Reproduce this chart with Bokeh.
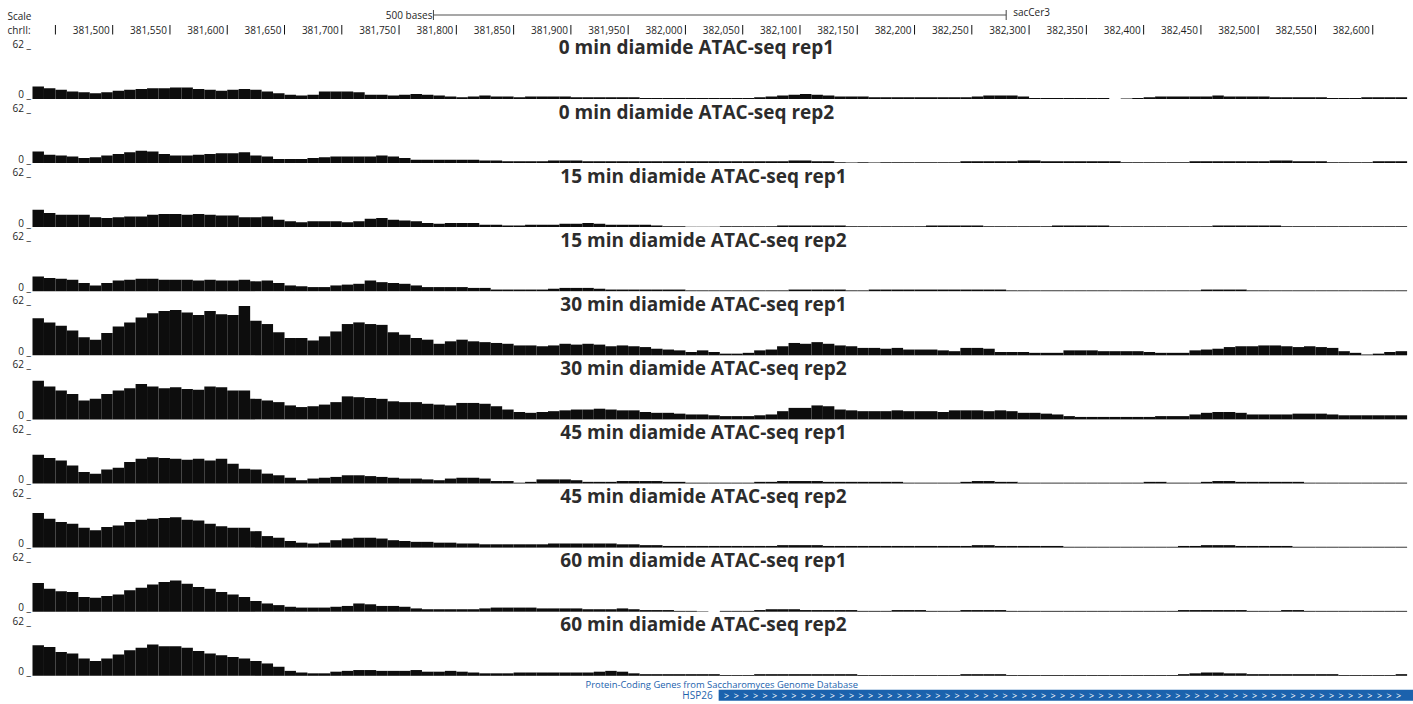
import numpy as np
from bokeh.plotting import figure
from bokeh.models import ColumnDataSource, Range1d
from bokeh.core.properties import value
from bokeh.embed import file_html
from bokeh.resources import INLINE

# ---------------- data ----------------
CHROM = "chrII"
VIEW_START = 381430
VIEW_END = 382630
BIN = 10
Y_MAX = 62

TRACK_TITLES = [
    "0 min diamide ATAC-seq rep1",
    "0 min diamide ATAC-seq rep2",
    "15 min diamide ATAC-seq rep1",
    "15 min diamide ATAC-seq rep2",
    "30 min diamide ATAC-seq rep1",
    "30 min diamide ATAC-seq rep2",
    "45 min diamide ATAC-seq rep1",
    "45 min diamide ATAC-seq rep2",
    "60 min diamide ATAC-seq rep1",
    "60 min diamide ATAC-seq rep2",
]

min0_rep1 = [15, 13, 11, 9, 8, 7, 8, 10, 11, 12, 13, 13, 14, 14, 12, 11, 10, 11, 12, 11,
             9, 7, 5, 4, 5, 9, 9, 9, 8, 5, 5, 4, 5, 6, 5, 4, 3, 2, 3, 4,
             3, 3, 2, 3, 3, 3, 3, 2, 2, 2, 2, 2, 2, 1, 1, 1, 1, 1, 1, 1,
             1, 1, 1, 2, 3, 4, 5, 6, 5, 4, 3, 3, 3, 2, 2, 2, 2, 2, 2, 2,
             2, 2, 3, 4, 4, 4, 3, 1, 1, 1, 1, 1, 1, 1, 0, 0.5, 1, 2, 3, 3,
             3, 3, 3, 4, 3, 3, 3, 3, 2, 2, 2, 2, 2, 1, 1, 1, 2, 2, 2, 2]
min0_rep2 = [14, 10, 9, 8, 6, 7, 9, 11, 13, 15, 14, 11, 9, 9, 10, 11, 12, 12, 13, 9,
             8, 5, 5, 5, 6, 7, 8, 8, 8, 8, 9, 8, 6, 4, 4, 4, 4, 4, 4, 3,
             3, 2, 2, 2, 2, 3, 3, 3, 2, 2, 2, 2, 2, 2, 2, 2, 2, 2, 2, 2,
             2, 2, 2, 2, 2, 2, 3, 3, 2, 2, 1, 0.5, 1, 0.5, 1, 1, 1, 1, 1, 1,
             1, 2, 2, 2, 2, 2, 3, 3, 2, 2, 2, 2, 2, 2, 2, 1, 1, 1, 1, 1,
             1, 2, 2, 2, 2, 2, 2, 2, 3, 3, 2, 2, 2, 1, 1, 1, 1, 2, 2, 2]
min15_rep1 = [21, 17, 15, 15, 15, 12, 11, 12, 13, 13, 15, 16, 16, 15, 16, 15, 14, 14, 12, 12,
              13, 9, 7, 6, 7, 7, 7, 6, 7, 10, 11, 9, 8, 7, 5, 4, 5, 5, 5, 3,
              3, 2, 2, 3, 3, 3, 4, 4, 5, 4, 3, 3, 3, 3, 2, 1, 1, 0.5, 0.5, 0.5,
              1, 1, 1, 1, 1, 2, 2, 2, 2, 2, 2, 1, 1, 1, 1, 1, 1, 1, 2, 2,
              2, 2, 2, 1, 1, 1, 1, 1, 1, 2, 2, 2, 2, 2, 1, 1, 1, 1, 1, 1,
              1, 1, 1, 2, 2, 2, 2, 2, 2, 1, 1, 1, 1, 1, 1, 1, 1, 1, 1, 1]
min15_rep2 = [18, 16, 15, 14, 10, 7, 10, 13, 14, 15, 15, 14, 14, 14, 13, 14, 13, 13, 14, 12,
              13, 10, 7, 6, 5, 5, 7, 8, 9, 13, 11, 10, 9, 7, 5, 5, 5, 5, 4, 4,
              2, 2, 2, 2, 2, 3, 4, 4, 4, 3, 2, 2, 2, 2, 2, 2, 2, 1, 1, 1,
              1, 1, 1, 1, 1, 1, 2, 2, 2, 2, 2, 1, 1, 2, 2, 2, 2, 2, 2, 2,
              2, 2, 2, 2, 2, 1, 1, 1, 1, 1, 1, 1, 1, 1, 1, 1, 1, 1, 1, 1,
              1, 1, 2, 2, 2, 2, 1, 1, 1, 1, 1, 1, 1, 1, 1, 1, 1, 1, 1, 1]
min30_rep1 = [45, 40, 36, 30, 22, 19, 27, 35, 40, 46, 51, 54, 55, 52, 49, 54, 50, 49, 60, 42,
              38, 28, 21, 21, 18, 23, 29, 38, 40, 38, 37, 28, 25, 21, 19, 14, 17, 19, 17, 16,
              15, 14, 12, 12, 11, 12, 14, 13, 14, 13, 11, 12, 11, 10, 8, 7, 6, 4, 6, 4,
              2, 2, 3, 6, 7, 11, 15, 14, 16, 14, 12, 11, 9, 9, 8, 9, 7, 7, 7, 6,
              5, 9, 9, 8, 4, 4, 4, 3, 3, 3, 6, 6, 6, 5, 5, 5, 5, 4, 3, 3,
              3, 6, 7, 8, 10, 11, 11, 12, 12, 11, 10, 11, 10, 9, 5, 3, 1, 2, 4, 5]
min30_rep2 = [47, 40, 35, 31, 23, 25, 31, 35, 38, 43, 40, 38, 39, 37, 36, 40, 39, 35, 35, 25,
              23, 21, 17, 15, 16, 18, 21, 28, 27, 26, 25, 22, 21, 21, 19, 18, 17, 20, 20, 19,
              16, 12, 9, 8, 9, 10, 11, 12, 12, 13, 12, 11, 11, 9, 8, 8, 7, 6, 6, 5,
              4, 4, 4, 5, 6, 10, 14, 14, 17, 16, 12, 11, 10, 10, 10, 11, 10, 10, 10, 9,
              11, 11, 11, 10, 11, 10, 8, 8, 7, 6, 4, 3, 3, 3, 3, 3, 3, 3, 4, 4,
              4, 6, 8, 9, 9, 8, 6, 6, 6, 6, 7, 7, 7, 6, 5, 5, 5, 5, 5, 5]
min45_rep1 = [35, 31, 28, 22, 14, 12, 17, 19, 26, 30, 32, 31, 30, 29, 30, 28, 30, 24, 18, 17,
              12, 10, 7, 4, 6, 7, 8, 10, 10, 9, 8, 7, 6, 6, 5, 4, 6, 7, 7, 6,
              3, 3, 1, 2, 5, 5, 5, 4, 2, 2, 2, 3, 3, 3, 3, 2, 2, 1, 1, 1,
              1, 1, 1, 2, 2, 3, 3, 3, 3, 2, 2, 2, 2, 2, 2, 2, 1, 1, 1, 1,
              1, 2, 3, 3, 2, 2, 1, 1, 1, 1, 1, 1, 1, 1, 1, 1, 1, 2, 2, 1,
              1, 1, 2, 3, 3, 2, 2, 2, 2, 2, 2, 1, 1, 1, 1, 1, 1, 1, 1, 1]
min45_rep2 = [42, 35, 31, 29, 24, 21, 25, 27, 31, 34, 35, 36, 37, 34, 33, 29, 26, 24, 24, 20,
              14, 12, 8, 6, 5, 6, 9, 11, 12, 12, 11, 9, 8, 7, 7, 6, 6, 5, 5, 4,
              4, 4, 4, 4, 4, 5, 5, 5, 5, 5, 5, 4, 4, 3, 3, 2, 2, 2, 2, 2,
              2, 2, 2, 2, 2, 3, 3, 3, 3, 2, 2, 2, 2, 2, 2, 2, 2, 2, 2, 2,
              2, 2, 3, 3, 2, 2, 2, 2, 2, 2, 1, 1, 1, 1, 1, 1, 1, 1, 1, 1,
              2, 2, 3, 3, 3, 2, 2, 2, 2, 2, 1, 1, 1, 1, 1, 1, 1, 1, 1, 1]
min60_rep1 = [35, 28, 25, 24, 18, 17, 19, 21, 26, 29, 33, 36, 38, 34, 30, 28, 24, 21, 18, 13,
              10, 8, 6, 5, 5, 5, 6, 7, 10, 9, 7, 7, 6, 4, 3, 3, 3, 3, 3, 4,
              5, 5, 5, 5, 4, 4, 4, 4, 3, 3, 3, 4, 3, 2, 2, 2, 1, 1, 0.5, 0,
              1, 1, 1, 2, 3, 3, 3, 2, 2, 2, 2, 2, 1, 1, 1, 2, 2, 2, 1, 1,
              1, 2, 2, 2, 2, 1, 1, 1, 1, 1, 1, 1, 1, 1, 1, 1, 1, 1, 1, 1,
              2, 2, 2, 2, 2, 2, 1, 1, 1, 2, 2, 1, 1, 1, 1, 1, 1, 1, 1, 1]
min60_rep2 = [37, 35, 29, 27, 21, 18, 21, 26, 31, 34, 38, 36, 36, 34, 30, 27, 25, 23, 21, 18,
              15, 11, 6, 4, 3, 3, 5, 6, 7, 7, 6, 6, 6, 7, 5, 5, 6, 5, 4, 3,
              3, 3, 4, 4, 4, 4, 4, 4, 4, 5, 6, 5, 3, 2, 2, 2, 2, 2, 2, 2,
              1, 1, 1, 2, 2, 2, 2, 2, 2, 2, 2, 2, 1, 1, 1, 1, 1, 1, 1, 1,
              1, 2, 2, 2, 2, 1, 1, 1, 1, 1, 1, 1, 1, 1, 1, 1, 1, 1, 1, 1,
              2, 3, 4, 4, 3, 3, 2, 2, 2, 2, 2, 2, 2, 2, 1, 1, 1, 1, 1, 2]

TRACK_VALUES = [min0_rep1, min0_rep2, min15_rep1, min15_rep2, min30_rep1,
                min30_rep2, min45_rep1, min45_rep2, min60_rep1, min60_rep2]

TICK_POSITIONS = [381450, 381500, 381550, 381600, 381650, 381700, 381750, 381800,
                  381850, 381900, 381950, 382000, 382050, 382100, 382150, 382200,
                  382250, 382300, 382350, 382400, 382450, 382500, 382550, 382600]
TICK_LABELS = ["", "381,500", "381,550", "381,600", "381,650", "381,700", "381,750",
               "381,800", "381,850", "381,900", "381,950", "382,000", "382,050",
               "382,100", "382,150", "382,200", "382,250", "382,300", "382,350",
               "382,400", "382,450", "382,500", "382,550", "382,600"]

SCALE_START = 381780
SCALE_LEN = 500
ASSEMBLY = "sacCer3"

GENE_NAME = "HSP26"
GENE_START = 382029
GENE_END = 382640
GENE_TRACK_TITLE = "Protein-Coding Genes from Saccharomyces Genome Database"

# ---------------- layout (vertical units = screen pixels) ----------------
W, H = 1413, 704
BP_PX = 1.1455                 # pixels per base
LEFT_PX = 32                   # width of the label column
BASE0 = 98.4                   # baseline of first track
PITCH = 64.1                   # distance between track baselines
TRACK_H = 51.0                 # height for Y_MAX

FONT = value("Open Sans")
BLUE = "#1b62ad"
TXT = "#1e1e1e"

x0 = VIEW_START - LEFT_PX / BP_PX
p = figure(width=W, height=H,
           x_range=Range1d(x0, x0 + W / BP_PX),
           y_range=Range1d(H, 0),
           output_backend="svg", toolbar_location=None,
           x_axis_location=None, y_axis_location=None, min_border=0)
p.grid.visible = False
p.outline_line_color = None
p.background_fill_color = "white"
p.border_fill_color = "white"


def px(n):
    """convert a horizontal pixel offset to bases"""
    return n / BP_PX


# ---------------- header: scale bar and ruler ----------------
sb_y = 14.5
p.segment(x0=[SCALE_START], y0=[sb_y], x1=[SCALE_START + SCALE_LEN], y1=[sb_y],
          line_color="#8a8a8a", line_width=1.3)
p.segment(x0=[SCALE_START, SCALE_START + SCALE_LEN], y0=[sb_y - 5, sb_y - 5],
          x1=[SCALE_START, SCALE_START + SCALE_LEN], y1=[sb_y + 5, sb_y + 5],
          line_color="#444444", line_width=1)
p.text(x=[SCALE_START - px(1)], y=[sb_y], text=["%d bases" % SCALE_LEN], text_font=FONT,
       text_font_size="10px", text_align="right", text_baseline="middle", text_color=TXT)
p.text(x=[SCALE_START + SCALE_LEN + px(7)], y=[sb_y - 3], text=[ASSEMBLY], text_font=FONT,
       text_font_size="10px", text_align="left", text_baseline="middle", text_color=TXT)

p.text(x=[x0 + px(7), x0 + px(7)], y=[15.5, 29.5], text=["Scale", CHROM + ":"], text_font=FONT,
       text_font_size="10px", text_align="left", text_baseline="middle", text_color=TXT)

p.segment(x0=TICK_POSITIONS, y0=[24.5] * len(TICK_POSITIONS),
          x1=TICK_POSITIONS, y1=[34] * len(TICK_POSITIONS),
          line_color="#111111", line_width=1)
lab_x = [t - px(3) for t, l in zip(TICK_POSITIONS, TICK_LABELS) if l]
lab_t = [l for l in TICK_LABELS if l]
p.text(x=lab_x, y=[29.5] * len(lab_x), text=lab_t, text_font=FONT, text_font_size="10px",
       text_align="right", text_baseline="middle", text_color=TXT)

# ---------------- signal tracks ----------------
lefts, rights, tops, bottoms = [], [], [], []
title_y, top_lab_y, zero_lab_y, title_x = [], [], [], []
for i, vals in enumerate(TRACK_VALUES):
    base = BASE0 + PITCH * i
    for j, v in enumerate(vals):
        if v <= 0:
            continue
        lefts.append(VIEW_START + BIN * j)
        rights.append(VIEW_START + BIN * (j + 1))
        bottoms.append(base)
        tops.append(base - v / Y_MAX * TRACK_H)
    title_y.append(base - 51.5)
    top_lab_y.append(base - 55)
    zero_lab_y.append(base - 4.5)
    # UCSC centres the titles in its own font; two-digit titles sit a little to the right
    title_x.append(VIEW_START + px(664) if TRACK_TITLES[i].startswith("0 ") else VIEW_START + px(671))

src = ColumnDataSource(dict(left=lefts, right=rights, top=tops, bottom=bottoms))
p.quad(left="left", right="right", top="top", bottom="bottom", source=src,
       fill_color="#0d0d0d", line_color=None)

p.text(x=title_x, y=title_y, text=TRACK_TITLES, text_font=FONT,
       text_font_size="19px", text_font_style="bold", text_align="center",
       text_baseline="middle", text_color="#2c2c2c")

lab_xx = VIEW_START - px(1.5)
p.text(x=[lab_xx] * len(TRACK_TITLES), y=top_lab_y, text=["%d _" % Y_MAX] * len(TRACK_TITLES),
       text_font=FONT, text_font_size="10px", text_align="right", text_baseline="middle",
       text_color=TXT)
p.text(x=[lab_xx] * len(TRACK_TITLES), y=zero_lab_y, text=["0 _"] * len(TRACK_TITLES),
       text_font=FONT, text_font_size="10px", text_align="right", text_baseline="middle",
       text_color=TXT)

# ---------------- gene track ----------------
gene_top = BASE0 + PITCH * (len(TRACK_VALUES) - 1) + 14
gene_bot = gene_top + 11
mid_x = (VIEW_START + VIEW_END) / 2.0
p.text(x=[mid_x + px(2)], y=[gene_top - 5.5], text=[GENE_TRACK_TITLE], text_font=FONT,
       text_font_size="9.4px", text_align="center", text_baseline="middle", text_color=BLUE)
p.quad(left=[GENE_START], right=[GENE_END], top=[gene_top], bottom=[gene_bot],
       fill_color=BLUE, line_color=None)
p.text(x=[GENE_START - px(6)], y=[(gene_top + gene_bot) / 2], text=[GENE_NAME],
       text_font=FONT, text_font_size="10px", text_align="right", text_baseline="middle",
       text_color=BLUE)
chev_x = np.arange(GENE_START + px(8), VIEW_END - px(4), px(9.6))
p.text(x=chev_x, y=[(gene_top + gene_bot) / 2] * len(chev_x), text=[">"] * len(chev_x),
       text_font=FONT, text_font_size="9px", text_align="center", text_baseline="middle",
       text_color="white")

open("out.html", "w").write(file_html(p, INLINE))
